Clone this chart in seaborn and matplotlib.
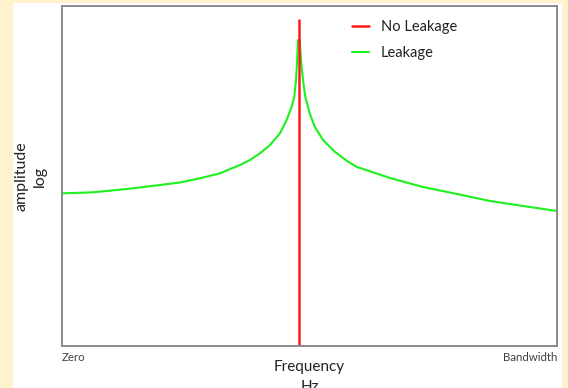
import matplotlib
matplotlib.use("Agg")
import matplotlib.pyplot as plt
import pandas as pd
import seaborn as sns
from matplotlib.patches import Rectangle

# espectro con fuga (escala 0-100 en ambos ejes)
freq_leak = [0, 6.26, 13.13, 19.80, 23.84, 27.88, 31.92, 35.96, 37.98, 40.0, 42.02, 44.04,
             45.39, 46.40, 46.93, 47.27, 47.47, 47.68, 48.02, 48.34, 48.69, 49.15, 50.04,
             51.05, 52.73, 55.09, 57.78, 59.60, 66.26, 72.93, 79.80, 86.46, 93.13, 100]
amp_leak = [44.9, 45.2, 46.18, 47.35, 48.1, 49.32, 50.79, 53.24, 54.71, 56.68, 59.12, 62.56,
            66.47, 70.38, 73.32, 78.24, 83.15, 90.0, 90.0, 83.15, 78.24, 73.32, 68.44,
            64.5, 60.59, 57.15, 54.21, 52.65, 49.41, 46.76, 44.71, 42.65, 41.18, 39.71]

# espectro sin fuga: una sola linea
freq_sin = [47.9, 47.9]
amp_sin = [0, 95.9]

df_leak = pd.DataFrame({"freq": freq_leak, "amp": amp_leak})
df_sin = pd.DataFrame({"freq": freq_sin, "amp": amp_sin})

sns.set_theme(style="white")
plt.rcParams["font.family"] = ["Lato", "DejaVu Sans"]

fig = plt.figure(figsize=(5.68, 3.88), dpi=100, facecolor="#fff2cc")
# panel blanco
fig.patches.append(Rectangle((13 / 568, 0), 549 / 568, 385 / 388,
                             transform=fig.transFigure, facecolor="white",
                             edgecolor="none", zorder=-10))
ax = fig.add_axes([62 / 568, 1 - 346 / 388, 495 / 568, 340 / 388])

sns.lineplot(data=df_leak, x="freq", y="amp", color="#1ef01e", lw=1.5,
             estimator=None, sort=False, ax=ax, label="Leakage")
sns.lineplot(data=df_sin, x="freq", y="amp", color="#ff1a1a", lw=1.8,
             estimator=None, sort=False, ax=ax, label="No Leakage")

ax.set_xlim(0, 100)
ax.set_ylim(0, 100)
ax.set_yticks([])
ax.set_xticks([0, 100], ["Zero", "Bandwidth"])
ax.tick_params(axis="x", length=0, pad=4, labelsize=8.3, colors="#404040")
labs = ax.get_xticklabels()
labs[0].set_ha("left")
labs[1].set_ha("right")

for s in ax.spines.values():
    s.set_color("#8a8a8a")
    s.set_linewidth(1.4)

ax.set_xlabel("Frequency\nHz", fontsize=11, color="#222222", labelpad=-2, linespacing=1.55)
ax.set_ylabel("amplitude\nlog", fontsize=11.5, color="#222222", labelpad=11, linespacing=1.35)

h, l = ax.get_legend_handles_labels()
ax.legend([h[1], h[0]], [l[1], l[0]], loc="upper left", bbox_to_anchor=(0.56, 0.998),
          frameon=False, fontsize=10.5, handlelength=1.15, labelspacing=0.85,
          labelcolor="#222222")

fig.savefig("out.png", dpi=100, facecolor=fig.get_facecolor())
